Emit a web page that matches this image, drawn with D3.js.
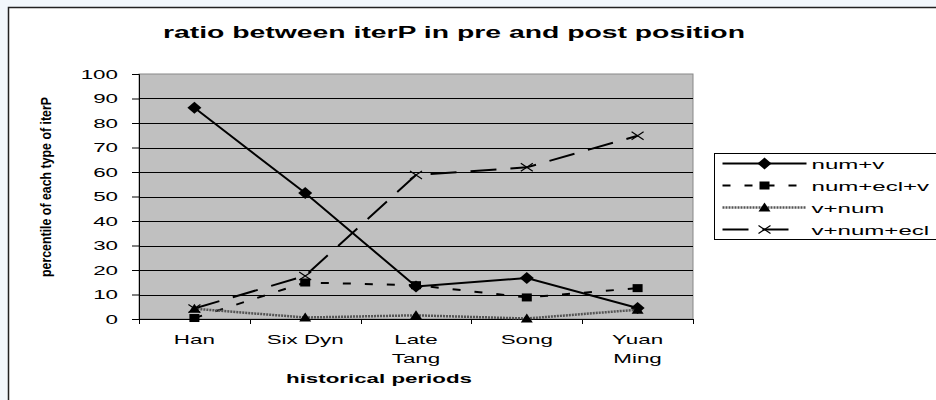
<!DOCTYPE html>
<html>
<head>
<meta charset="utf-8">
<script src="https://cdn.jsdelivr.net/npm/d3@7"></script>
<style>
  body { margin: 0; background: #f2f7fc; }
  svg { display: block; }
  text { font-family: "Liberation Sans", Arial, sans-serif; fill: #000; }
</style>
</head>
<body>
<svg width="936" height="400"></svg>
<script>
var periods = [["Han"], ["Six Dyn"], ["Late", "Tang"], ["Song"], ["Yuan", "Ming"]];
var seriesNames = ["num+v", "num+ecl+v", "v+num", "v+num+ecl"];
var numV = [86.2, 51.4, 13.3, 16.7, 4.5];
var numEclV = [0.4, 14.9, 13.8, 8.8, 12.6];
var vNum = [4.2, 0.6, 1.5, 0.2, 3.8];
var vNumEcl = [4.3, 17.6, 58.8, 61.9, 74.8];
var yTicks = [0, 10, 20, 30, 40, 50, 60, 70, 80, 90, 100];

var svg = d3.select("svg"),
    margin = {top: 74, left: 139},
    width = 554,
    height = 245,
    stretchX = 1.72;

// widen text horizontally, like the original rendering
function stretch(sel, k) {
  sel.each(function() {
    var w = this.getComputedTextLength();
    d3.select(this)
      .attr("textLength", w * k)
      .attr("lengthAdjust", "spacingAndGlyphs");
  });
}

// white frame
svg.append("rect")
    .attr("x", 8.5).attr("y", 7.5)
    .attr("width", 940).attr("height", 400)
    .attr("fill", "#fff")
    .attr("stroke", "#222")
    .attr("stroke-width", 1.5);

var x = d3.scaleBand().domain(d3.range(periods.length)).range([0, width]),
    y = d3.scaleLinear().domain([0, 100]).range([height, 0]);

var g = svg.append("g")
    .attr("transform", "translate(" + margin.left + "," + margin.top + ")");

g.append("rect")
    .attr("width", width).attr("height", height)
    .attr("fill", "#c0c0c0")
    .attr("stroke", "#888");

g.selectAll(".grid")
    .data(yTicks.slice(1, -1))
    .enter().append("line")
    .attr("x1", 0).attr("x2", width)
    .attr("y1", function(d) { return Math.round(y(d)) + 0.5; })
    .attr("y2", function(d) { return Math.round(y(d)) + 0.5; })
    .attr("stroke", "#000");

var yAxis = g.append("g")
    .call(d3.axisLeft(y).tickValues(yTicks).tickSize(7).tickPadding(14));
yAxis.select(".domain").attr("stroke", "#000");
yAxis.selectAll("line").attr("stroke", "#000");
yAxis.selectAll("text")
    .style("font-size", "13px")
    .attr("fill", "#000")
    .call(stretch, stretchX);

g.append("line")
    .attr("x1", 0).attr("x2", width)
    .attr("y1", height + 0.5).attr("y2", height + 0.5)
    .attr("stroke", "#000");

// ticks between categories
g.selectAll(".xtick")
    .data(d3.range(periods.length + 1))
    .enter().append("line")
    .attr("x1", function(d) { return Math.round(d * x.step()) + 0.5; })
    .attr("x2", function(d) { return Math.round(d * x.step()) + 0.5; })
    .attr("y1", height).attr("y2", height + 5)
    .attr("stroke", "#000");

periods.forEach(function(p, i) {
  p.forEach(function(word, j) {
    g.append("text")
      .attr("x", x(i) + x.bandwidth() / 2)
      .attr("y", height + 25 + j * 19)
      .attr("text-anchor", "middle")
      .style("font-size", "13px")
      .text(word)
      .call(stretch, stretchX);
  });
});

var line = d3.line()
    .x(function(d, i) { return x(i) + x.bandwidth() / 2; })
    .y(function(d) { return y(d); });

var styles = [
  {data: numV, dash: null, color: "#000", w: 2, marker: "diamond", legEnd: 92},
  {data: numEclV, dash: "8,14", color: "#000", w: 2, marker: "square", legEnd: 92},
  {data: vNum, dash: "2,1", color: "#555", w: 2.5, marker: "triangle", legEnd: 92},
  {data: vNumEcl, dash: "26,14", color: "#000", w: 2, marker: "x", legEnd: 80}
];

function drawMarker(sel, m) {
  if (m === "diamond") {
    sel.append("path").attr("d", "M0,-6L7,0L0,6L-7,0Z").attr("fill", "#000");
  } else if (m === "square") {
    sel.append("rect").attr("x", -5).attr("y", -4).attr("width", 10).attr("height", 8).attr("fill", "#000");
  } else if (m === "triangle") {
    sel.append("path").attr("d", "M0,-5L6,4L-6,4Z").attr("fill", "#000");
  } else {
    sel.append("path").attr("d", "M-6,-4L6,4M-6,4L6,-4").attr("stroke", "#000").attr("stroke-width", 1.2).attr("fill", "none");
  }
}

styles.forEach(function(s) {
  g.append("path")
    .datum(s.data)
    .attr("d", line)
    .attr("fill", "none")
    .attr("stroke", s.color)
    .attr("stroke-width", s.w)
    .attr("stroke-dasharray", s.dash);
  s.data.forEach(function(v, i) {
    var m = g.append("g")
      .attr("transform", "translate(" + (x(i) + x.bandwidth() / 2) + "," + y(v) + ")");
    drawMarker(m, s.marker);
  });
});

// titles
svg.append("text")
    .attr("x", 454).attr("y", 38)
    .attr("text-anchor", "middle")
    .style("font-size", "16px")
    .style("font-weight", "bold")
    .attr("textLength", 582)
    .attr("lengthAdjust", "spacingAndGlyphs")
    .text("ratio between iterP in pre and post position");

svg.append("text")
    .attr("x", 379).attr("y", 383)
    .attr("text-anchor", "middle")
    .style("font-size", "13px")
    .style("font-weight", "bold")
    .attr("textLength", 186)
    .attr("lengthAdjust", "spacingAndGlyphs")
    .text("historical periods");

svg.append("text")
    .attr("transform", "translate(51,187)rotate(-90)")
    .attr("text-anchor", "middle")
    .attr("textLength", 180)
    .attr("lengthAdjust", "spacingAndGlyphs")
    .style("font-size", "15px")
    .style("font-weight", "bold")
    .text("percentile of each type of iterP");

// legend
var lg = svg.append("g").attr("transform", "translate(714.5,153.5)");
lg.append("rect")
    .attr("width", 240).attr("height", 86)
    .attr("fill", "#fff").attr("stroke", "#000");

styles.forEach(function(s, i) {
  var row = lg.append("g").attr("transform", "translate(0," + (10 + i * 22) + ")");
  row.append("line")
    .attr("x1", 8).attr("x2", s.legEnd)
    .attr("stroke", s.color)
    .attr("stroke-width", s.w)
    .attr("stroke-dasharray", s.dash);
  drawMarker(row.append("g").attr("transform", "translate(50,0)"), s.marker);
  row.append("text")
    .attr("x", 97).attr("y", 5)
    .style("font-size", "13px")
    .text(seriesNames[i])
    .call(stretch, 1.85);
});
</script>
</body>
</html>
